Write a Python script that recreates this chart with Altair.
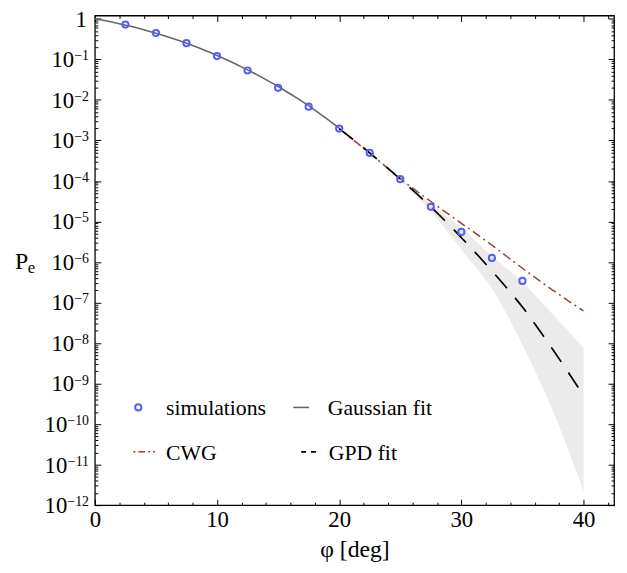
import altair as alt
import pandas as pd

# ---------------- data ----------------
sim_phi = [2.5, 5, 7.5, 10, 12.5, 15, 17.5, 20, 22.5, 25, 27.5, 30, 32.5, 35]
sim_pe = [0.72, 0.445, 0.25, 0.12, 0.053, 0.0198, 0.0068, 0.00195,
          4.9e-4, 1.1e-4, 2.3e-5, 5.5e-6, 1.26e-6, 3.4e-7]

gauss_phi = [0, 1, 2, 3, 4, 5, 6, 7, 8, 9, 10, 11, 12, 13, 14, 15, 16, 17, 18, 19, 20]
gauss_pe = [1.0, 0.878, 0.758, 0.645, 0.539, 0.442, 0.356, 0.282, 0.219, 0.167,
            0.124, 0.0909, 0.0652, 0.0458, 0.0315, 0.0213, 0.0139, 0.0090,
            0.0056, 0.0034, 0.0020]

tail_phi = [20, 22.5, 25, 27.5, 30, 32.5, 35, 37.5, 40]
cwg_pe = [1.95e-3, 4.8e-4, 1.15e-4, 3.1e-5, 9.0e-6, 2.6e-6, 7.0e-7, 2.0e-7, 6.2e-8]
gpd_pe = [1.95e-3, 4.9e-4, 1.1e-4, 2.3e-5, 4.0e-6, 6.0e-7, 7.7e-8, 6.8e-9, 5.1e-10]
band_lo = [1.95e-3, 4.7e-4, 1.02e-4, 1.8e-5, 2.0e-6, 2.2e-7, 9.0e-9, 2.1e-10, 2.2e-12]
band_hi = [1.95e-3, 5.1e-4, 1.18e-4, 2.7e-5, 7.0e-6, 1.4e-6, 3.2e-7, 5.0e-8, 7.6e-9]

# y tick labels: base and exponent, one per decade 10^0 ... 10^-12
y_tick_values = [1.0, 1e-1, 1e-2, 1e-3, 1e-4, 1e-5, 1e-6, 1e-7, 1e-8, 1e-9, 1e-10, 1e-11, 1e-12]
y_tick_base = ['1', '10', '10', '10', '10', '10', '10', '10', '10', '10', '10', '10', '10']
y_tick_exp = ['', '−1', '−2', '−3', '−4', '−5', '−6', '−7', '−8', '−9', '−10', '−11', '−12']
x_major = [0, 10, 20, 30, 40]
legend_labels = ['simulations', 'Gaussian fit', 'CWG', 'GPD fit']
x_title = 'φ [deg]'
y_title_main, y_title_sub = 'P', 'e'

# ---------------- tables ----------------
sim_df = pd.DataFrame({'phi': sim_phi, 'pe': sim_pe})
gauss_df = pd.DataFrame({'phi': gauss_phi, 'pe': gauss_pe})
cwg_df = pd.DataFrame({'phi': tail_phi, 'pe': cwg_pe})
gpd_df = pd.DataFrame({'phi': tail_phi, 'pe': gpd_pe})
band_df = pd.DataFrame({'phi': tail_phi, 'lo': band_lo, 'hi': band_hi})
ylab_df = pd.DataFrame({'v': y_tick_values, 'base': y_tick_base, 'exp': y_tick_exp,
                        'n': [len(e) for e in y_tick_exp]})

# ---------------- scales / axes ----------------
FONT = 'Liberation Serif'
xs = alt.Scale(domain=[0, 42.5], nice=False, zero=False)
ys = alt.Scale(type='log', domain=[1e-12, 1.2], nice=False)

y_major = y_tick_values
y_minor = [m * 10.0 ** (-k) for k in range(1, 13) for m in range(2, 10)]
x_minor = [v for v in range(2, 43, 2) if v % 10 != 0]

MAJ, MIN = 6, 3


def ax(orient, values, size, **kw):
    return alt.Axis(orient=orient, values=values, tickSize=size, offset=-size,
                    domain=False, grid=False, tickColor='black', tickWidth=1,
                    **kw)


x_bottom = ax('bottom', x_major, MAJ, labels=True, labelFont=FONT, labelFontSize=23,
              labelColor='black', labelPadding=4, title=x_title, titleFont=FONT,
              titleFontSize=24, titleFontWeight='normal', titleColor='black',
              titlePadding=6, labelFlush=False)
x_top = ax('top', x_major, MAJ, labels=False, title=None)
x_bottom_minor = ax('bottom', x_minor, MIN, labels=False, title=None)
x_top_minor = ax('top', x_minor, MIN, labels=False, title=None)

y_left = ax('left', y_major, MAJ, labels=False, title=None)
y_right = ax('right', y_major, MAJ, labels=False, title=None)
y_left_minor = ax('left', y_minor, MIN, labels=False, title=None)
y_right_minor = ax('right', y_minor, MIN, labels=False, title=None)

# ---------------- layers ----------------
band = alt.Chart(band_df).mark_area(color='#ebebeb', opacity=1, interpolate='monotone').encode(
    x=alt.X('phi:Q', scale=xs, axis=x_bottom),
    y=alt.Y('lo:Q', scale=ys, axis=y_left),
    y2='hi:Q',
)

gauss = alt.Chart(gauss_df).mark_line(color='#666666', strokeWidth=1.6,
                                      interpolate='monotone').encode(
    x=alt.X('phi:Q', scale=xs, axis=x_top),
    y=alt.Y('pe:Q', scale=ys, axis=y_right),
)

cwg = alt.Chart(cwg_df).mark_line(color='#8B4A35', strokeWidth=1.5, strokeDash=[9, 4, 2, 4],
                                  interpolate='monotone').encode(
    x=alt.X('phi:Q', scale=xs, axis=x_bottom_minor),
    y=alt.Y('pe:Q', scale=ys, axis=y_left_minor),
)

gpd = alt.Chart(gpd_df).mark_line(color='black', strokeWidth=1.7, strokeDash=[18, 13],
                                  interpolate='monotone').encode(
    x=alt.X('phi:Q', scale=xs, axis=x_top_minor),
    y=alt.Y('pe:Q', scale=ys, axis=y_right_minor),
)

pts = alt.Chart(sim_df).mark_point(shape='circle', filled=False, color='#5b5bf5',
                                   size=40, strokeWidth=2, opacity=1).encode(
    x=alt.X('phi:Q', scale=xs, axis=None),
    y=alt.Y('pe:Q', scale=ys, axis=None),
)

# ---------------- y tick labels (10 with raised exponent) ----------------
BASE_FS, EXP_FS = 23, 14
lab_y = alt.Y('v:Q', scale=ys, axis=None)
exp_lab = alt.Chart(ylab_df).mark_text(font=FONT, fontSize=EXP_FS, color='black',
                                       align='right', baseline='alphabetic', dy=1).encode(
    x=alt.value(-6), y=lab_y, text='exp:N')
base_one = alt.Chart(ylab_df).transform_filter('datum.n == 0').mark_text(
    font=FONT, fontSize=BASE_FS, color='black', align='right', baseline='alphabetic',
    dy=8).encode(x=alt.value(-8), y=lab_y, text='base:N')
base_short = alt.Chart(ylab_df).transform_filter('datum.n == 2').mark_text(
    font=FONT, fontSize=BASE_FS, color='black', align='right', baseline='alphabetic',
    dy=8).encode(x=alt.value(-21), y=lab_y, text='base:N')
base_long = alt.Chart(ylab_df).transform_filter('datum.n == 3').mark_text(
    font=FONT, fontSize=BASE_FS, color='black', align='right', baseline='alphabetic',
    dy=8).encode(x=alt.value(-28), y=lab_y, text='base:N')

one = pd.DataFrame({'k': [0]})
ytitle = [
    alt.Chart(one).mark_text(font=FONT, fontSize=24, color='black', align='left',
                             baseline='alphabetic').encode(
        x=alt.value(-81), y=alt.value(257), text=alt.value(y_title_main)),
    alt.Chart(one).mark_text(font=FONT, fontSize=17, color='black', align='left',
                             baseline='alphabetic').encode(
        x=alt.value(-68), y=alt.value(261), text=alt.value(y_title_sub)),
]

# ---------------- legend (inside plot) ----------------
leg_text_style = dict(font=FONT, fontSize=22, color='black', align='left', baseline='alphabetic')
R1, R2 = 397, 442
leg = [
    alt.Chart(one).mark_point(shape='circle', filled=False, color='#5b5bf5', size=40,
                              strokeWidth=2, opacity=1).encode(
        x=alt.value(44), y=alt.value(R1)),
    alt.Chart(one).mark_text(**leg_text_style).encode(
        x=alt.value(72), y=alt.value(R1 + 8), text=alt.value(legend_labels[0])),
    alt.Chart(one).mark_rule(color='#666666', strokeWidth=1.6).encode(
        x=alt.value(201), x2=alt.value(217), y=alt.value(R1)),
    alt.Chart(one).mark_text(**leg_text_style).encode(
        x=alt.value(236), y=alt.value(R1 + 8), text=alt.value(legend_labels[1])),
    alt.Chart(one).mark_rule(color='#8B4A35', strokeWidth=1.5, strokeDash=[2, 3, 7, 3]).encode(
        x=alt.value(39), x2=alt.value(61), y=alt.value(R2)),
    alt.Chart(one).mark_text(**leg_text_style).encode(
        x=alt.value(72), y=alt.value(R2 + 8), text=alt.value(legend_labels[2])),
    alt.Chart(one).mark_rule(color='black', strokeWidth=1.6, strokeDash=[5, 5]).encode(
        x=alt.value(209), x2=alt.value(224), y=alt.value(R2)),
    alt.Chart(one).mark_text(**leg_text_style).encode(
        x=alt.value(237), y=alt.value(R2 + 8), text=alt.value(legend_labels[3])),
]

chart = alt.layer(band, gauss, cwg, gpd, pts, exp_lab, base_one, base_short, base_long,
                  *ytitle, *leg).resolve_axis(
    x='independent', y='independent'
).properties(
    width=526, height=496,
    autosize=alt.AutoSizeParams(type='none'),
    padding={'left': 88, 'top': 4, 'right': 5, 'bottom': 60},
    background='white',
).configure_view(stroke='black', strokeWidth=1.3)

chart.save('out.html', embed_options={'renderer': 'svg', 'actions': False})
